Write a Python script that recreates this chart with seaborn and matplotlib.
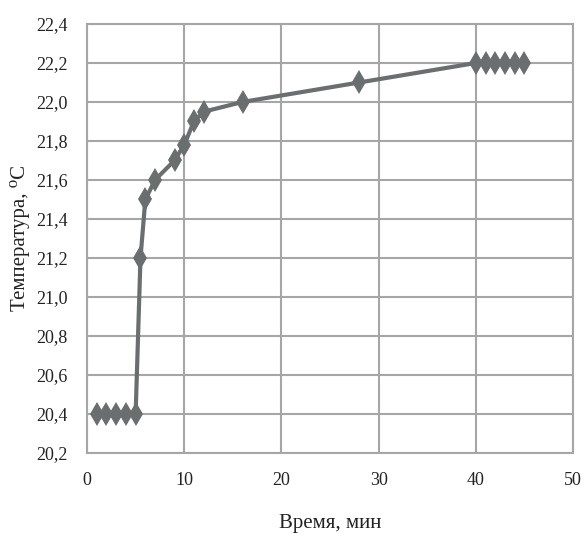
import matplotlib
matplotlib.use("Agg")
import matplotlib.pyplot as plt
import seaborn as sns
import pandas as pd

# Данные: время (мин) и температура (°C)
time_min = [1, 2, 3, 4, 5, 5.5, 6, 7, 9, 10, 11, 12, 16, 28, 40, 41, 42, 43, 44, 45]
temp_c = [20.4, 20.4, 20.4, 20.4, 20.4, 21.2, 21.5, 21.6, 21.7, 21.78, 21.9, 21.95,
          22.0, 22.1, 22.2, 22.2, 22.2, 22.2, 22.2, 22.2]

x_ticks = [0, 10, 20, 30, 40, 50]
y_ticks = [20.2, 20.4, 20.6, 20.8, 21.0, 21.2, 21.4, 21.6, 21.8, 22.0, 22.2, 22.4]
y_tick_labels = ["20,2", "20,4", "20,6", "20,8", "21,0", "21,2", "21,4", "21,6",
                 "21,8", "22,0", "22,2", "22,4"]

df = pd.DataFrame({"t": time_min, "T": temp_c})

sns.set_style("white")
plt.rcParams["font.family"] = ["Liberation Serif", "DejaVu Serif"]

fig, ax = plt.subplots(figsize=(5.86, 5.45), dpi=100)
fig.subplots_adjust(left=0.1485, right=0.978, top=0.956, bottom=0.169)

grid_col = "#a6a6a6"
line_col = "#6b6e6e"

sns.lineplot(data=df, x="t", y="T", ax=ax, color=line_col, linewidth=3,
             marker="d", markersize=12, markeredgewidth=0, sort=False, zorder=3)

ax.set_xlim(0, 50)
ax.set_ylim(20.2, 22.4)
ax.set_xticks(x_ticks)
ax.set_xticklabels([str(v) for v in x_ticks])
ax.set_yticks(y_ticks)
ax.set_yticklabels(y_tick_labels)

ax.grid(True, color=grid_col, linewidth=1.5)
for s in ax.spines.values():
    s.set_color(grid_col)
    s.set_linewidth(1.5)
ax.tick_params(axis="both", direction="out", length=6, width=1.5, color=grid_col,
               labelsize=13, labelcolor="#222222", pad=8)

ax.set_xlabel("Время, мин", fontsize=15, labelpad=18, color="#222222")
ax.set_ylabel("Температура, ⁰С", fontsize=15, labelpad=4, color="#222222")

plt.savefig("out.png", dpi=100)
